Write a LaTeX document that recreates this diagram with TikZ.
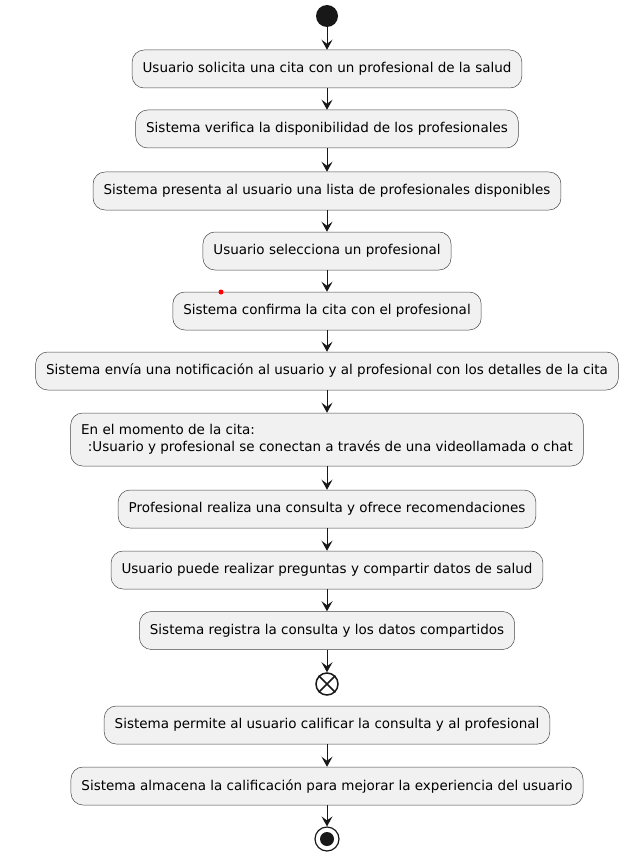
\documentclass[tikz,border=0pt]{standalone}
\usepackage{fontspec}
\setmainfont{DejaVu Sans}
\usetikzlibrary{arrows.meta}
\definecolor{actfill}{HTML}{F1F1F1}
\definecolor{actline}{HTML}{181818}

\tikzset{
  act/.style={draw=actline!80, fill=actfill, line width=0.5pt, rounded corners=12pt,
    minimum height=38pt, inner xsep=10.5pt, font=\fontsize{13.5}{16.5}\selectfont},
  flow/.style={draw=actline, line width=1pt, -{Stealth[length=10pt,width=11pt,inset=4pt]}},
}

\begin{document}
\begin{tikzpicture}[x=1pt,y=-1pt]
    \useasboundingbox (0,0) rectangle (631,853);
    % start
    \node [circle, fill=actline, minimum size=22pt, inner sep=0pt] (inicio) at (327,16) {};
    % activities
    \node [act] (solicita) at (327,69) {Usuario solicita una cita con un profesional de la salud};
    \node [act] (verifica) at (327,129) {Sistema verifica la disponibilidad de los profesionales};
    \node [act] (presenta) at (327,191) {Sistema presenta al usuario una lista de profesionales disponibles};
    \node [act] (selecciona) at (327,251) {Usuario selecciona un profesional};
    \node [act] (confirma) at (327,311) {Sistema confirma la cita con el profesional};
    \node [act] (notifica) at (327,371) {Sistema envía una notificación al usuario y al profesional con los detalles de la cita};
    \node [act, minimum height=53pt, align=left] (conecta) at (327,439.5) {En el momento de la cita:\\\hspace*{0.5em}:Usuario y profesional se conectan a través de una videollamada o chat};
    \node [act] (consulta) at (327,509) {Profesional realiza una consulta y ofrece recomendaciones};
    \node [act] (pregunta) at (327,570) {Usuario puede realizar preguntas y compartir datos de salud};
    \node [act] (registra) at (327,630.5) {Sistema registra la consulta y los datos compartidos};
    % flow end
    \node [circle, draw=actline, line width=1.5pt, minimum size=22pt, inner sep=0pt] (cruz) at (327,684) {};
    \draw [actline, line width=1.5pt] (cruz.north west) -- (cruz.south east)
        (cruz.north east) -- (cruz.south west);
    \node [act] (califica) at (327,725) {Sistema permite al usuario calificar la consulta y al profesional};
    \node [act] (almacena) at (327,786) {Sistema almacena la calificación para mejorar la experiencia del usuario};
    % stop
    \node [circle, draw=actline, line width=1.2pt, minimum size=24pt, inner sep=0pt] (fin) at (327,839) {};
    \fill [actline] (fin) circle (7pt);
    \fill [red] (221,292) circle (2.5pt);
    % arrows
    \foreach \a/\b in {inicio/solicita, solicita/verifica, verifica/presenta, presenta/selecciona,
        selecciona/confirma, confirma/notifica, notifica/conecta, conecta/consulta,
        consulta/pregunta, pregunta/registra, registra/cruz, califica/almacena, almacena/fin}
        \draw [flow] (\a) -- (\b);
\end{tikzpicture}
\end{document}
